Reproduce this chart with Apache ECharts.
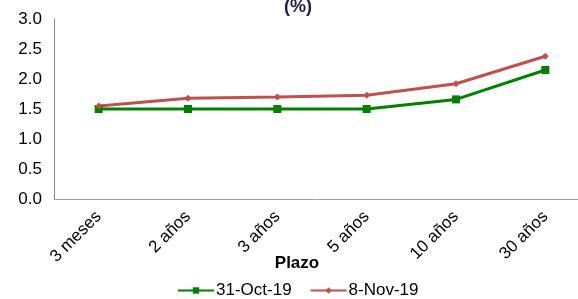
<!DOCTYPE html>
<html>
<head>
<meta charset="utf-8">
<script src="https://cdn.jsdelivr.net/npm/echarts@6/dist/echarts.min.js"></script>
<style>
  *{margin: 0; padding: 0;}
  html,body{width: 100%; height: 100%; background: #fff;}
  #chart{width: 578px; height: 299px;}
</style>
</head>
<body>
<div id="chart"></div>
<script>
var categories = ['3 meses', '2 años', '3 años', '5 años', '10 años', '30 años']
var octValues = [1.50, 1.50, 1.50, 1.50, 1.66, 2.15]
var novValues = [1.55, 1.68, 1.70, 1.73, 1.92, 2.38]
var seriesNames = ['31-Oct-19', '8-Nov-19']

var chart = echarts.init(document.getElementById('chart'))
var options = {
  animation: false,
  title: {
    text: '(%)',
    left: 293,
    top: -7,
    textAlign: 'center',
    textStyle: {
      color: '#1f1f3f',
      fontFamily: 'Liberation Sans',
      fontWeight: 'bold',
      fontSize: 18
    }
  },
  grid: {
    left: 54,
    top: 19,
    width: 536,
    height: 180,
    outerBoundsMode: 'none',
    containLabel: false
  },
  legend: {
    top: 277,
    left: 172,
    itemGap: 18,
    itemWidth: 36,
    itemHeight: 8,
    textStyle: {
      color: '#000',
      fontFamily: 'Liberation Sans',
      fontSize: 17,
      padding: [0, 0, 0, -3]
    },
    data: seriesNames
  },
  xAxis: {
    type: 'category',
    data: categories,
    name: 'Plazo',
    nameLocation: 'middle',
    nameGap: 56,
    nameMoveOverlap: false,
    nameTextStyle: {
      color: '#000',
      fontFamily: 'Liberation Sans',
      fontWeight: 'bold',
      fontSize: 17,
      padding: [0, 0, 0, -50]
    },
    axisLine: {
      lineStyle: { color: '#a0a0a0' }
    },
    axisTick: { show: false },
    axisLabel: {
      rotate: 45,
      interval: 0,
      margin: 15,
      color: '#000',
      fontFamily: 'Liberation Sans',
      fontSize: 17
    }
  },
  yAxis: {
    type: 'value',
    min: 0,
    max: 3,
    interval: 0.5,
    axisLine: {
      show: true,
      lineStyle: { color: '#868686' }
    },
    axisTick: { show: false },
    splitLine: { show: false },
    axisLabel: {
      margin: 12,
      color: '#000',
      fontFamily: 'Liberation Sans',
      fontSize: 17,
      formatter: function(v) { return v.toFixed(1) }
    }
  },
  series: [
    {
      name: seriesNames[0],
      type: 'line',
      data: octValues,
      symbol: 'rect',
      symbolSize: 8,
      lineStyle: { color: '#008000', width: 3 },
      itemStyle: { color: '#008000' }
    },
    {
      name: seriesNames[1],
      type: 'line',
      data: novValues,
      symbol: 'diamond',
      symbolSize: 7,
      lineStyle: { color: '#c0504d', width: 3 },
      itemStyle: { color: '#c0504d' }
    }
  ]
}
chart.setOption(options)
</script>
</body>
</html>
